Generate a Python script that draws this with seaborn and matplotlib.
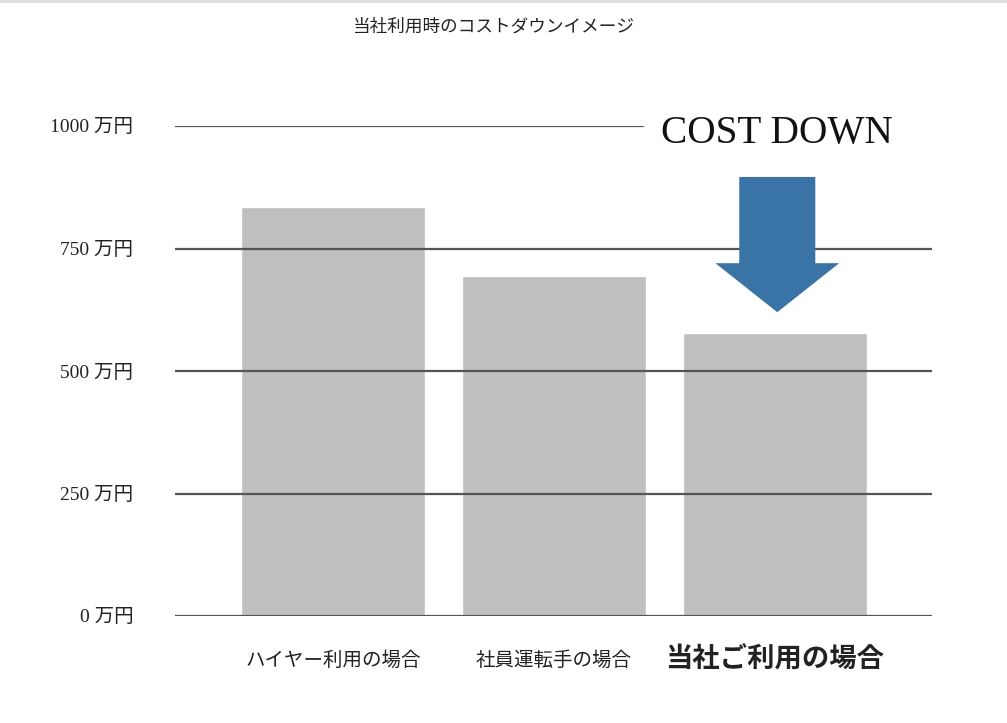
import matplotlib
matplotlib.use("Agg")
import matplotlib.pyplot as plt
import seaborn as sns
import pandas as pd
from matplotlib.patches import FancyArrow
from matplotlib.lines import Line2D

# ---- data ----
categories = ["ハイヤー利用の場合", "社員運転手の場合", "当社ご利用の場合"]
values = [835, 694, 578]
y_ticks = [0, 250, 500, 750, 1000]
y_tick_labels = ["0 万円", "250 万円", "500 万円", "750 万円", "1000 万円"]
title = "当社利用時のコストダウンイメージ"
callout = "COST DOWN"

sns.set_theme(style="white")
plt.rcParams["font.family"] = ["Liberation Serif", "Noto Sans CJK JP", "DejaVu Sans"]

fig = plt.figure(figsize=(10.07, 7.23), dpi=100)
W, H = 1007, 723
ax = fig.add_axes([175 / W, 1 - 616 / H, (932 - 175) / W, (616 - 126) / H])

df = pd.DataFrame({"cat": categories, "val": values})
sns.barplot(data=df, x="cat", y="val", color="#bfbfbf", saturation=1,
            width=0.83, ax=ax, zorder=1)

ax.set_xlim(-0.715, 2.71)
ax.set_ylim(0, 1000)
for s in ax.spines.values():
    s.set_visible(False)

# gridlines on top of bars
for t in y_ticks:
    xmax = 0.618 if t == max(y_ticks) else 1.0
    ax.axhline(t, xmin=0, xmax=xmax, color="#555555", lw=1.6, zorder=3)

ax.set_yticks(y_ticks)
ax.set_yticklabels(y_tick_labels, fontsize=14, color="#222222")
ax.tick_params(axis="y", length=0, pad=30)
ax.tick_params(axis="x", length=0, pad=32)
ax.set_xlabel("")
ax.set_ylabel("")

xt = ax.get_xticklabels()
for i, lab in enumerate(xt):
    lab.set_va("center")
    lab.set_color("#222222")
    if i == len(xt) - 1:
        lab.set_fontsize(19.7)
        lab.set_fontweight("bold")
    else:
        lab.set_fontsize(14)

# arrow pointing to the last bar
last = len(values) - 1
arrow = FancyArrow(last + 0.01, 896, 0, -276, width=0.344, head_width=0.56,
                   head_length=100, length_includes_head=True,
                   color="#3a73a6", lw=0, zorder=4)
ax.add_patch(arrow)
ax.text(last + 0.01, 984, callout, ha="center", va="center", fontsize=28.3,
        family=["Liberation Serif"], color="#111111", clip_on=False, zorder=5)

fig.text(494 / W, 1 - 27 / H, title, ha="center", va="center", fontsize=12.7,
         color="#222222")
fig.add_artist(Line2D([0, 1], [0.999, 0.999], color="#dddddd", lw=2,
                      transform=fig.transFigure))

fig.savefig("out.png", dpi=100)
